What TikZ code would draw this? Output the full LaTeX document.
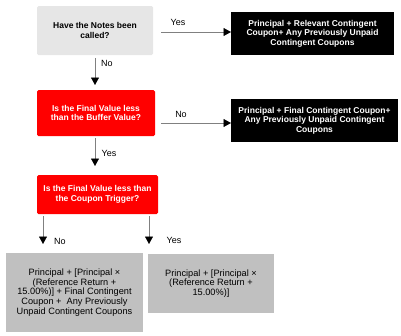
\documentclass[tikz,border=0pt]{standalone}
\usepackage{fontspec}
\setmainfont{Liberation Sans}
\usetikzlibrary{arrows.meta}
\definecolor{lightbox}{HTML}{E6E6E6}
\definecolor{graybox}{HTML}{C0C0C0}
\definecolor{redbox}{HTML}{FF0000}
\definecolor{linegray}{HTML}{808080}
\tikzset{
  box/.style={rectangle, rounded corners=1.5pt, inner sep=0pt, align=center, font=\fontsize{8.5}{9.4}\selectfont\bfseries},
  qlight/.style={box, fill=lightbox, text=black},
  qred/.style={box, fill=redbox, text=white},
  ablack/.style={box, fill=black, text=white, rounded corners=0pt},
  agray/.style={rectangle, inner sep=0pt, align=center, fill=graybox, text=black, font=\fontsize{9.2}{8.4}\selectfont},
  conn/.style={draw=linegray, line width=0.6pt, -{Triangle[black,length=7.5pt,width=8pt]}},
  lbl/.style={font=\fontsize{9}{10}\selectfont, text=black, inner sep=0pt}
}
\begin{document}
\begin{tikzpicture}[x=1pt,y=-1pt]
\useasboundingbox (0,0) rectangle (401,335);
\node[qlight, minimum width=116pt, minimum height=49pt] (q1) at (95,30.5) {Have the Notes been\\called?};
\node[ablack, minimum width=163pt, minimum height=43pt] (a1) at (312.5,33.5) {Principal + Relevant Contingent\\Coupon+ Any Previously Unpaid\\Contingent Coupons};
\node[qred, minimum width=118pt, minimum height=46pt] (q2) at (96,113) {Is the Final Value less\\than the Buffer Value?};
\node[ablack, minimum width=167pt, minimum height=43pt] (a2) at (314.5,120.5) {Principal + Final Contingent Coupon+\\Any Previously Unpaid Contingent\\Coupons};
\node[qred, minimum width=121pt, minimum height=39pt] (q3) at (97.5,194.5) {Is the Final Value less than\\the Coupon Trigger?};
\node[agray, minimum width=137pt, minimum height=79pt] (a3) at (74.5,292.5) {Principal + [Principal ×\\(Reference Return +\\15.00\%)] + Final Contingent\\Coupon +\ \ Any Previously\\Unpaid Contingent Coupons};
\node[agray, minimum width=126pt, minimum height=59pt] (a4) at (211,283.5) {Principal + [Principal ×\\(Reference Return +\\15.00\%)]};
\coordinate (y1s) at (161,32);
\coordinate (y1e) at (231,32);
\draw[conn] (y1s) -- (y1e);
\node[lbl] (ly1) at (178,22) {Yes};
\coordinate (n1s) at (95,58);
\coordinate (n1e) at (95,85);
\draw[conn] (n1s) -- (n1e);
\node[lbl] (ln1) at (107,63) {No};
\coordinate (n2s) at (161,123);
\coordinate (n2e) at (231,123);
\draw[conn] (n2s) -- (n2e);
\node[lbl] (ln2) at (181,114) {No};
\coordinate (y2s) at (95,138);
\coordinate (y2e) at (95,166);
\draw[conn] (y2s) -- (y2e);
\node[lbl] (ly2) at (109,153) {Yes};
\coordinate (n3s) at (43,216);
\coordinate (n3e) at (43,244);
\draw[conn] (n3s) -- (n3e);
\node[lbl] (ln3) at (60,241) {No};
\coordinate (y3s) at (149,216);
\coordinate (y3e) at (149,244);
\draw[conn] (y3s) -- (y3e);
\node[lbl] (ly3) at (174,240) {Yes};
\end{tikzpicture}
\end{document}
